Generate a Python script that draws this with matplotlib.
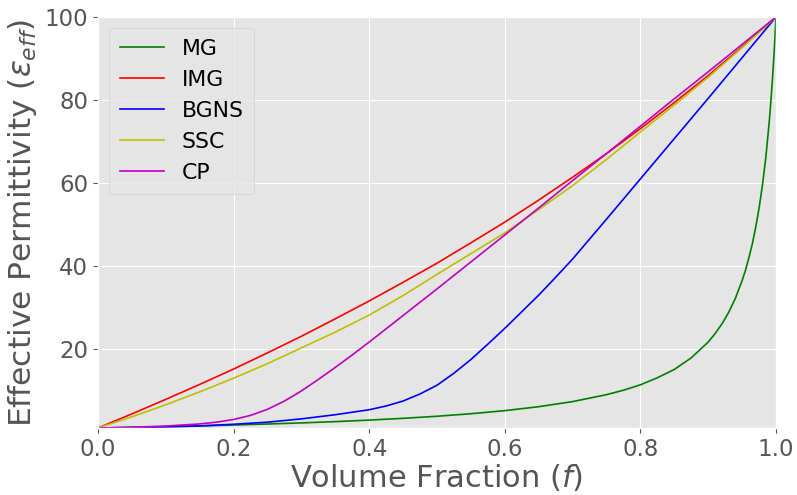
import matplotlib
matplotlib.use("Agg")
import matplotlib.pyplot as plt

plt.style.use("ggplot")

# Volume fraction grid (shared)
f = [0.00, 0.05, 0.10, 0.15, 0.20, 0.25, 0.30, 0.35, 0.40, 0.45, 0.50,
     0.55, 0.60, 0.65, 0.70, 0.75, 0.80, 0.85, 0.90, 0.95, 1.00]

# Maxwell Garnett (denser near f = 1)
f_mg = [0.00, 0.05, 0.10, 0.15, 0.20, 0.25, 0.30, 0.35, 0.40, 0.45, 0.50,
        0.55, 0.60, 0.65, 0.70, 0.75, 0.775, 0.80, 0.825, 0.85, 0.875,
        0.90, 0.91, 0.92, 0.93, 0.94, 0.95, 0.955, 0.96, 0.965, 0.97,
        0.975, 0.98, 0.985, 0.99, 0.9925, 0.995, 0.9975, 1.00]
mg = [1.00, 1.15, 1.32, 1.51, 1.72, 1.96, 2.23, 2.54, 2.90, 3.33, 3.83,
      4.44, 5.18, 6.13, 7.36, 9.03, 10.1, 11.4, 13.1, 15.1, 17.9,
      21.7, 23.7, 26.0, 28.8, 32.2, 36.5, 39.0, 42.0, 45.3, 49.3,
      53.9, 59.5, 66.2, 74.7, 79.8, 85.6, 92.2, 100.0]

img = [1.0, 4.4, 7.9, 11.5, 15.2, 19.1, 23.1, 27.3, 31.6, 36.1, 40.7,
       45.6, 50.6, 55.9, 61.4, 67.1, 73.1, 79.4, 85.9, 92.8, 100.0]

f_bg = [0.00, 0.05, 0.10, 0.15, 0.20, 0.25, 0.30, 0.35, 0.40, 0.425, 0.45,
        0.475, 0.50, 0.525, 0.55, 0.575, 0.60, 0.625, 0.65, 0.675, 0.70,
        0.75, 0.80, 0.85, 0.90, 0.95, 1.00]
bgns = [1.0, 1.1, 1.25, 1.5, 1.9, 2.4, 3.2, 4.2, 5.4, 6.3, 7.5,
        9.2, 11.3, 14.2, 17.5, 21.2, 25.0, 29.0, 33.0, 37.3, 41.7,
        51.3, 61.0, 70.7, 80.4, 90.2, 100.0]

ssc = [1.0, 3.7, 6.6, 9.7, 13.0, 16.5, 20.3, 24.1, 28.2, 32.9, 38.0,
       43.0, 48.0, 53.6, 59.4, 65.7, 72.3, 78.8, 85.5, 92.6, 100.0]

f_cp = [0.00, 0.05, 0.10, 0.15, 0.175, 0.20, 0.225, 0.25, 0.275, 0.30,
        0.325, 0.35, 0.375, 0.40, 0.45, 0.50, 0.55, 0.60, 0.65, 0.70,
        0.75, 0.80, 0.85, 0.90, 0.95, 1.00]
cp = [1.0, 1.18, 1.47, 1.98, 2.41, 3.05, 4.04, 5.5, 7.49, 9.93,
      12.7, 15.6, 18.6, 21.7, 28.1, 34.5, 41.0, 47.5, 54.0, 60.6,
      67.1, 73.7, 80.3, 86.8, 93.4, 100.0]

fig = plt.figure(figsize=(7.97, 4.95), dpi=100)
ax = fig.add_axes([98/797, 1 - 428/495, (776 - 98)/797, (428 - 17)/495])

lw = 1.2
ax.plot(f_mg, mg, color="g", lw=lw, label="MG")
ax.plot(f, img, color="r", lw=lw, label="IMG")
ax.plot(f_bg, bgns, color="b", lw=lw, label="BGNS")
ax.plot(f, ssc, color="y", lw=lw, label="SSC")
ax.plot(f_cp, cp, color="m", lw=lw, label="CP")

ax.set_xlim(0, 1)
ax.set_ylim(1, 100)
ax.set_xticks([0.0, 0.2, 0.4, 0.6, 0.8, 1.0])
ax.set_yticks([20, 40, 60, 80, 100])
ax.tick_params(labelsize=16.5, colors="#555555")
ax.set_xlabel("Volume Fraction ($f$)", fontsize=22, color="#555555", labelpad=1)
ax.set_ylabel(r"Effective Permittivity ($\epsilon_{eff}$)", fontsize=22.5,
              color="#555555", labelpad=4)

leg = ax.legend(loc="upper left", fontsize=15.8, frameon=True,
                handlelength=2.0, borderpad=0.5)
leg.get_frame().set_facecolor("#E5E5E5")
leg.get_frame().set_edgecolor("#CCCCCC")

fig.savefig("out.png", dpi=100)
